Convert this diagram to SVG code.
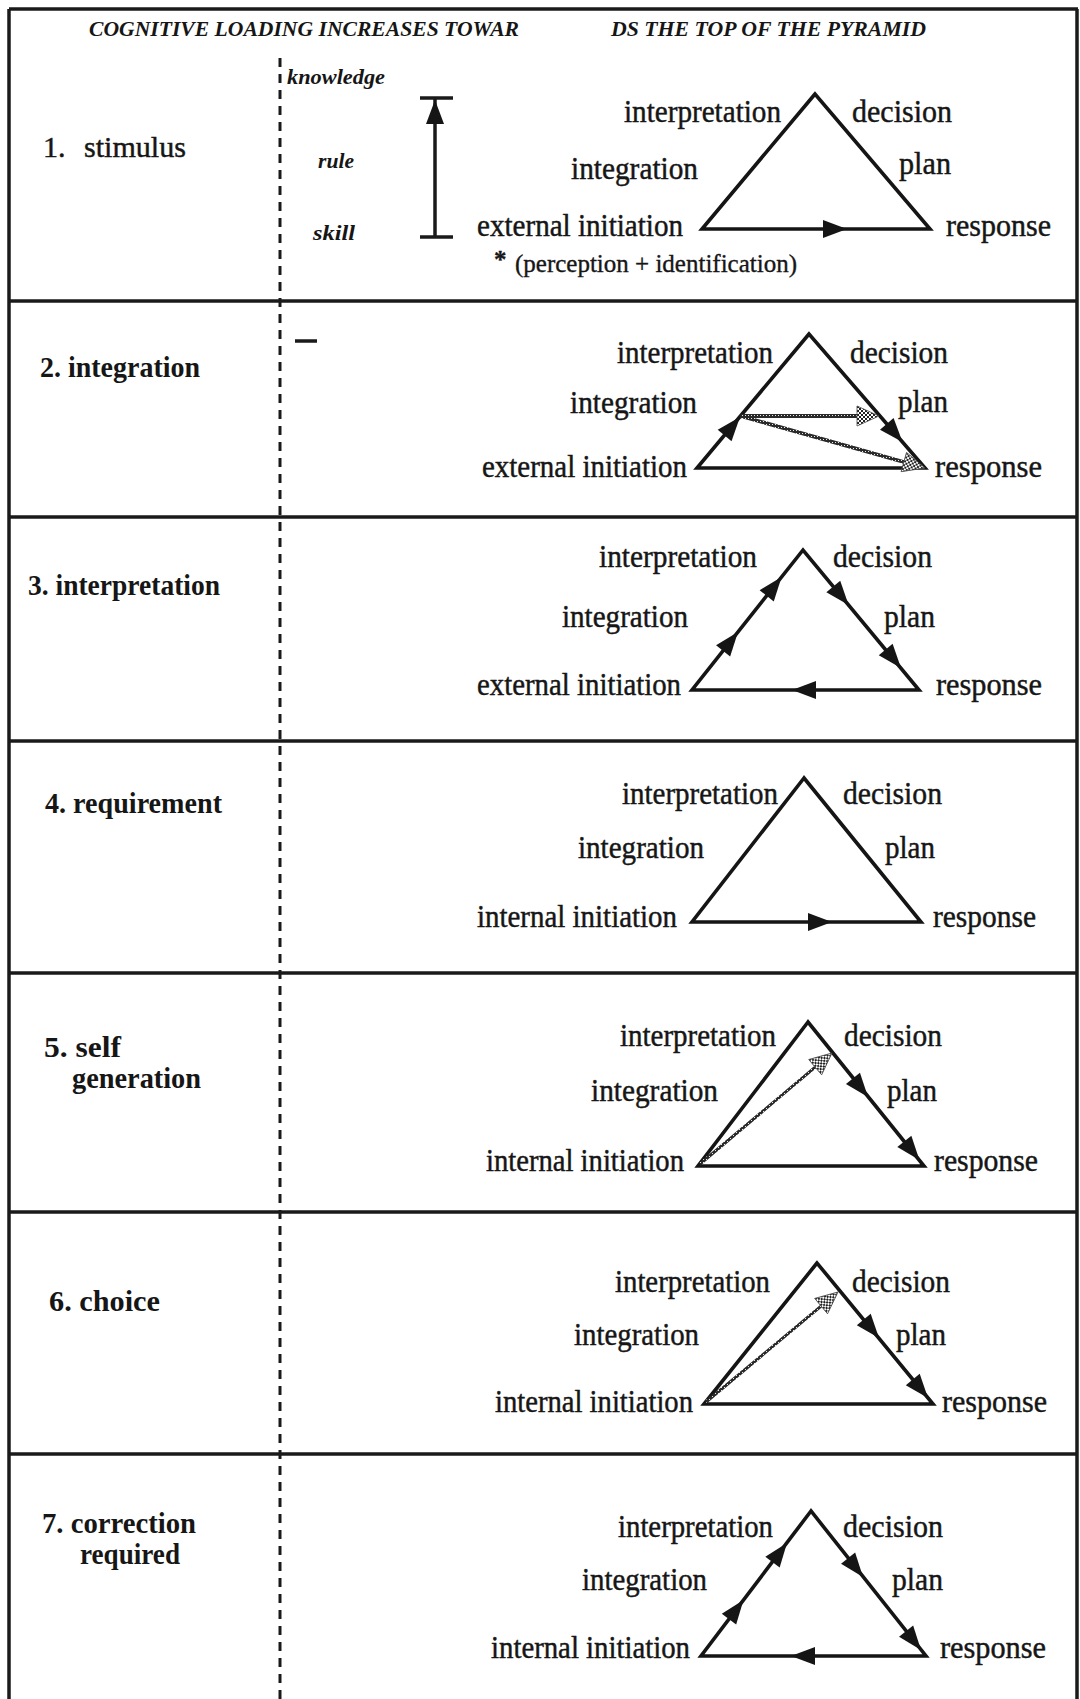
<svg xmlns="http://www.w3.org/2000/svg" xmlns:xlink="http://www.w3.org/1999/xlink" width="1080" height="1699" viewBox="0 0 1080 1699">
  <style>
    text { font-family: "Liberation Serif", "Times New Roman", serif; fill: #161616; }
    .lbl { font-size: 31px; stroke: #161616; stroke-width: 0.45px; }
    .row { font-size: 30px; font-weight: bold; }
    .row1 { font-size: 30px; font-weight: normal; stroke: #161616; stroke-width: 0.45px; }
    .hdr { font-size: 22px; font-style: italic; font-weight: bold; }
    .scale { font-size: 21px; font-style: italic; font-weight: bold; }
    .note { font-size: 25px; stroke: #161616; stroke-width: 0.35px; }
    .frame { stroke: #1a1a1a; stroke-width: 3.5; fill: none; }
    .dash { stroke: #1a1a1a; stroke-width: 3; stroke-dasharray: 9 7; fill: none; }
    .tri { fill: none; stroke: #151515; stroke-width: 3.6; stroke-linejoin: miter; }
    .hl { fill: none; stroke: url(#rope); stroke-width: 3.8; }
    .hl-thin { fill: none; stroke: url(#rope); stroke-width: 3; }
    .ah { fill: #151515; }
    .hh { fill: url(#checker); stroke: #444; stroke-width: 0.8; }
  </style>
  <defs>
    <!-- dotted fill for the shaded arrowheads -->
    <pattern id="checker" width="4" height="4" patternUnits="userSpaceOnUse">
      <rect width="4" height="4" fill="#ffffff"/>
      <rect width="2" height="2" fill="#222"/>
      <rect x="2" y="2" width="2" height="2" fill="#222"/>
    </pattern>
    <!-- grainy stroke for the shaded connector lines -->
    <pattern id="rope" width="3" height="3" patternUnits="userSpaceOnUse">
      <rect width="3" height="3" fill="#2a2a2a"/>
      <rect x="1" y="1" width="1" height="1" fill="#e8e8e8"/>
    </pattern>
    <path id="ah" d="M0,0 L-24,-9 L-24,9 Z"/>
    <path id="hh" d="M0,0 L-22,-10 L-22,10 Z"/>
  </defs>

  <rect width="1080" height="1699" fill="#ffffff"/>

  <!-- table frame -->
  <g id="frame">
    <line class="frame" x1="9" y1="9" x2="1078" y2="9"/>
    <line class="frame" x1="9" y1="9" x2="9" y2="1699"/>
    <line class="frame" x1="1077" y1="9" x2="1077" y2="1699"/>
    <line class="frame" x1="9" y1="301" x2="1078" y2="301"/>
    <line class="frame" x1="9" y1="517" x2="1078" y2="517"/>
    <line class="frame" x1="9" y1="741" x2="1078" y2="741"/>
    <line class="frame" x1="9" y1="973" x2="1078" y2="973"/>
    <line class="frame" x1="9" y1="1212" x2="1078" y2="1212"/>
    <line class="frame" x1="9" y1="1454" x2="1078" y2="1454"/>
    <line class="dash" x1="280" y1="58" x2="280" y2="1699"/>
  </g>

  <!-- heading -->
  <g id="heading">
    <text class="hdr" x="89" y="36" textLength="430" lengthAdjust="spacingAndGlyphs">COGNITIVE LOADING INCREASES TOWAR</text>
    <text class="hdr" x="611" y="36" textLength="315" lengthAdjust="spacingAndGlyphs">DS THE TOP OF THE PYRAMID</text>
  </g>

  <!-- skill / rule / knowledge scale -->
  <g id="scale">
    <text class="scale" x="287" y="84" textLength="98" lengthAdjust="spacingAndGlyphs">knowledge</text>
    <text class="scale" x="318" y="168" textLength="36" lengthAdjust="spacingAndGlyphs">rule</text>
    <text class="scale" x="313" y="240" textLength="42" lengthAdjust="spacingAndGlyphs">skill</text>
    <line class="frame" x1="435" y1="98" x2="435" y2="237" stroke-width="2.5"/>
    <line class="frame" x1="420" y1="98" x2="453" y2="98"/>
    <line class="frame" x1="420" y1="237" x2="453" y2="237"/>
    <use xlink:href="#ah" class="ah" transform="translate(435,100) rotate(-90)"/>
  </g>

  <!-- 1. stimulus -->
  <g id="row1">
    <text class="row1" x="43" y="157">1.<tspan x="84" textLength="102" lengthAdjust="spacingAndGlyphs">stimulus</tspan></text>
    <polygon class="tri" points="815,94 702,229 930,229"/>
    <text class="lbl" x="624" y="122" textLength="157" lengthAdjust="spacingAndGlyphs">interpretation</text>
    <text class="lbl" x="852" y="122" textLength="100" lengthAdjust="spacingAndGlyphs">decision</text>
    <text class="lbl" x="571" y="179" textLength="127" lengthAdjust="spacingAndGlyphs">integration</text>
    <text class="lbl" x="899" y="174" textLength="52" lengthAdjust="spacingAndGlyphs">plan</text>
    <text class="lbl" x="477" y="236" textLength="206" lengthAdjust="spacingAndGlyphs">external initiation</text>
    <text class="lbl" x="946" y="236" textLength="105" lengthAdjust="spacingAndGlyphs">response</text>
    <text class="note" x="494" y="268" font-weight="bold">*</text>
    <text class="note" x="515" y="272" textLength="282" lengthAdjust="spacingAndGlyphs">(perception + identification)</text>
    <g class="connectors">
      <use xlink:href="#ah" class="ah" transform="translate(847,229)"/>
    </g>
  </g>

  <!-- 2. integration -->
  <g id="row2">
    <text class="row" x="40" y="377" textLength="160" lengthAdjust="spacingAndGlyphs">2. integration</text>
    <line class="frame" x1="295" y1="341" x2="317" y2="341" stroke-width="3"/>
    <polygon class="tri" points="809,334 697,468 925,468"/>
    <text class="lbl" x="617" y="363" textLength="156" lengthAdjust="spacingAndGlyphs">interpretation</text>
    <text class="lbl" x="850" y="363" textLength="98" lengthAdjust="spacingAndGlyphs">decision</text>
    <text class="lbl" x="570" y="413" textLength="127" lengthAdjust="spacingAndGlyphs">integration</text>
    <text class="lbl" x="898" y="412" textLength="50" lengthAdjust="spacingAndGlyphs">plan</text>
    <text class="lbl" x="482" y="477" textLength="205" lengthAdjust="spacingAndGlyphs">external initiation</text>
    <text class="lbl" x="935" y="477" textLength="107" lengthAdjust="spacingAndGlyphs">response</text>
    <g class="connectors">
      <line class="hl" x1="740.5" y1="416" x2="857" y2="416"/>
      <use xlink:href="#hh" class="hh" transform="translate(879,416)"/>
      <line class="hl" x1="740.5" y1="416" x2="903.8" y2="462"/>
      <use xlink:href="#hh" class="hh" transform="translate(925,468) rotate(15.74)"/>
      <use xlink:href="#ah" class="ah" transform="translate(740,417) rotate(-50.11)"/>
      <use xlink:href="#ah" class="ah" transform="translate(902.5,442) rotate(49.12)"/>
    </g>
  </g>

  <!-- 3. interpretation -->
  <g id="row3">
    <text class="row" x="28" y="595" textLength="192" lengthAdjust="spacingAndGlyphs">3. interpretation</text>
    <polygon class="tri" points="803,550 692,690 919,690"/>
    <text class="lbl" x="599" y="567" textLength="158" lengthAdjust="spacingAndGlyphs">interpretation</text>
    <text class="lbl" x="833" y="567" textLength="99" lengthAdjust="spacingAndGlyphs">decision</text>
    <text class="lbl" x="562" y="627" textLength="126" lengthAdjust="spacingAndGlyphs">integration</text>
    <text class="lbl" x="884" y="627" textLength="51" lengthAdjust="spacingAndGlyphs">plan</text>
    <text class="lbl" x="477" y="695" textLength="204" lengthAdjust="spacingAndGlyphs">external initiation</text>
    <text class="lbl" x="936" y="695" textLength="106" lengthAdjust="spacingAndGlyphs">response</text>
    <g class="connectors">
      <use xlink:href="#ah" class="ah" transform="translate(738,632) rotate(-51.59)"/>
      <use xlink:href="#ah" class="ah" transform="translate(781.6,577) rotate(-51.59)"/>
      <use xlink:href="#ah" class="ah" transform="translate(848.6,605) rotate(50.36)"/>
      <use xlink:href="#ah" class="ah" transform="translate(901,668) rotate(50.36)"/>
      <use xlink:href="#ah" class="ah" transform="translate(792,690) rotate(180)"/>
    </g>
  </g>

  <!-- 4. requirement -->
  <g id="row4">
    <text class="row" x="45" y="813" textLength="177" lengthAdjust="spacingAndGlyphs">4. requirement</text>
    <polygon class="tri" points="804,778 692,922 921,922"/>
    <text class="lbl" x="622" y="804" textLength="156" lengthAdjust="spacingAndGlyphs">interpretation</text>
    <text class="lbl" x="843" y="804" textLength="99" lengthAdjust="spacingAndGlyphs">decision</text>
    <text class="lbl" x="578" y="858" textLength="126" lengthAdjust="spacingAndGlyphs">integration</text>
    <text class="lbl" x="885" y="858" textLength="50" lengthAdjust="spacingAndGlyphs">plan</text>
    <text class="lbl" x="477" y="927" textLength="200" lengthAdjust="spacingAndGlyphs">internal initiation</text>
    <text class="lbl" x="933" y="927" textLength="103" lengthAdjust="spacingAndGlyphs">response</text>
    <g class="connectors">
      <use xlink:href="#ah" class="ah" transform="translate(832,922)"/>
    </g>
  </g>

  <!-- 5. self generation -->
  <g id="row5">
    <text class="row" x="44" y="1057" textLength="77" lengthAdjust="spacingAndGlyphs">5. self</text>
    <text class="row" x="72" y="1088" textLength="129" lengthAdjust="spacingAndGlyphs">generation</text>
    <polygon class="tri" points="808,1022 698,1166 924,1166"/>
    <text class="lbl" x="620" y="1046" textLength="156" lengthAdjust="spacingAndGlyphs">interpretation</text>
    <text class="lbl" x="844" y="1046" textLength="98" lengthAdjust="spacingAndGlyphs">decision</text>
    <text class="lbl" x="591" y="1101" textLength="127" lengthAdjust="spacingAndGlyphs">integration</text>
    <text class="lbl" x="887" y="1101" textLength="50" lengthAdjust="spacingAndGlyphs">plan</text>
    <text class="lbl" x="486" y="1171" textLength="198" lengthAdjust="spacingAndGlyphs">internal initiation</text>
    <text class="lbl" x="934" y="1171" textLength="104" lengthAdjust="spacingAndGlyphs">response</text>
    <g class="connectors">
      <line class="hl-thin" x1="700" y1="1164" x2="815.2" y2="1067.2"/>
      <use xlink:href="#hh" class="hh" transform="translate(832,1053) rotate(-40.14)"/>
      <use xlink:href="#ah" class="ah" transform="translate(868,1097) rotate(51.15)"/>
      <use xlink:href="#ah" class="ah" transform="translate(919.4,1160) rotate(51.15)"/>
    </g>
  </g>

  <!-- 6. choice -->
  <g id="row6">
    <text class="row" x="49" y="1311" textLength="111" lengthAdjust="spacingAndGlyphs">6. choice</text>
    <polygon class="tri" points="817,1263 704,1404 933,1404"/>
    <text class="lbl" x="615" y="1292" textLength="155" lengthAdjust="spacingAndGlyphs">interpretation</text>
    <text class="lbl" x="852" y="1292" textLength="98" lengthAdjust="spacingAndGlyphs">decision</text>
    <text class="lbl" x="574" y="1345" textLength="125" lengthAdjust="spacingAndGlyphs">integration</text>
    <text class="lbl" x="896" y="1345" textLength="50" lengthAdjust="spacingAndGlyphs">plan</text>
    <text class="lbl" x="495" y="1412" textLength="198" lengthAdjust="spacingAndGlyphs">internal initiation</text>
    <text class="lbl" x="942" y="1412" textLength="105" lengthAdjust="spacingAndGlyphs">response</text>
    <g class="connectors">
      <line class="hl-thin" x1="706" y1="1402" x2="821.1" y2="1306.1"/>
      <use xlink:href="#hh" class="hh" transform="translate(838,1292) rotate(-39.89)"/>
      <use xlink:href="#ah" class="ah" transform="translate(879,1338) rotate(50.55)"/>
      <use xlink:href="#ah" class="ah" transform="translate(928,1398) rotate(50.55)"/>
    </g>
  </g>

  <!-- 7. correction required -->
  <g id="row7">
    <text class="row" x="42" y="1533" textLength="154" lengthAdjust="spacingAndGlyphs">7. correction</text>
    <text class="row" x="80" y="1564" textLength="100" lengthAdjust="spacingAndGlyphs">required</text>
    <polygon class="tri" points="811,1511 701,1656 926,1656"/>
    <text class="lbl" x="618" y="1537" textLength="155" lengthAdjust="spacingAndGlyphs">interpretation</text>
    <text class="lbl" x="843" y="1537" textLength="100" lengthAdjust="spacingAndGlyphs">decision</text>
    <text class="lbl" x="582" y="1590" textLength="125" lengthAdjust="spacingAndGlyphs">integration</text>
    <text class="lbl" x="892" y="1590" textLength="51" lengthAdjust="spacingAndGlyphs">plan</text>
    <text class="lbl" x="491" y="1658" textLength="199" lengthAdjust="spacingAndGlyphs">internal initiation</text>
    <text class="lbl" x="940" y="1658" textLength="106" lengthAdjust="spacingAndGlyphs">response</text>
    <g class="connectors">
      <use xlink:href="#ah" class="ah" transform="translate(743.5,1600) rotate(-52.82)"/>
      <use xlink:href="#ah" class="ah" transform="translate(787,1543) rotate(-52.82)"/>
      <use xlink:href="#ah" class="ah" transform="translate(863,1577) rotate(51.58)"/>
      <use xlink:href="#ah" class="ah" transform="translate(921,1650) rotate(51.58)"/>
      <use xlink:href="#ah" class="ah" transform="translate(791,1656) rotate(180)"/>
    </g>
  </g>
</svg>
